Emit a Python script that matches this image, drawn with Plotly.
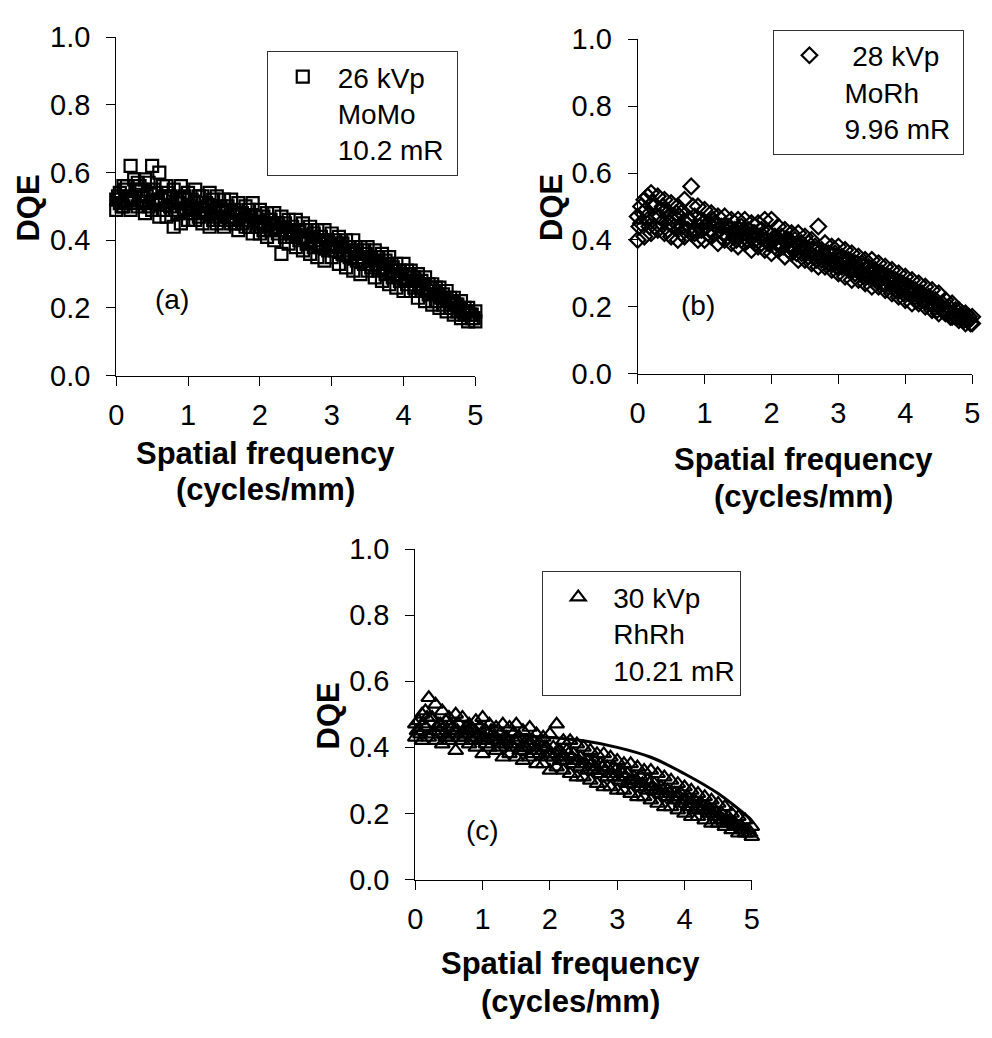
import plotly.graph_objects as go

# ---------------- data ----------------
x_grid1 = [0.0, 0.1, 0.2, 0.3, 0.4, 0.5, 0.6, 0.7, 0.8, 0.9,
           1.0, 1.1, 1.2, 1.3, 1.4, 1.5, 1.6, 1.7, 1.8, 1.9,
           2.0, 2.1, 2.2, 2.3, 2.4, 2.5, 2.6, 2.7, 2.8, 2.9,
           3.0, 3.1, 3.2, 3.3, 3.4, 3.5, 3.6, 3.7, 3.8, 3.9,
           4.0, 4.1, 4.2, 4.3, 4.4, 4.5, 4.6, 4.7, 4.8, 4.9, 5.0]
x_grid2 = [0.05, 0.15, 0.25, 0.35, 0.45, 0.55, 0.65, 0.75, 0.85, 0.95,
           1.05, 1.15, 1.25, 1.35, 1.45, 1.55, 1.65, 1.75, 1.85, 1.95,
           2.05, 2.15, 2.25, 2.35, 2.45, 2.55, 2.65, 2.75, 2.85, 2.95,
           3.05, 3.15, 3.25, 3.35, 3.45, 3.55, 3.65, 3.75, 3.85, 3.95,
           4.05, 4.15, 4.25, 4.35, 4.45, 4.55, 4.65, 4.75, 4.85, 4.95]
x_grid3 = [0.025, 0.125, 0.225, 0.325, 0.425, 0.525, 0.625, 0.725, 0.825, 0.925,
           1.025, 1.125, 1.225, 1.325, 1.425, 1.525, 1.625, 1.725, 1.825, 1.925,
           2.025, 2.125, 2.225, 2.325, 2.425, 2.525, 2.625, 2.725, 2.825, 2.925,
           3.025, 3.125, 3.225, 3.325, 3.425, 3.525, 3.625, 3.725, 3.825, 3.925,
           4.025, 4.125, 4.225, 4.325, 4.425, 4.525, 4.625, 4.725, 4.825, 4.925]
x_grid4 = [0.075, 0.175, 0.275, 0.375, 0.475, 0.575, 0.675, 0.775, 0.875, 0.975,
           1.075, 1.175, 1.275, 1.375, 1.475, 1.575, 1.675, 1.775, 1.875, 1.975,
           2.075, 2.175, 2.275, 2.375, 2.475, 2.575, 2.675, 2.775, 2.875, 2.975,
           3.075, 3.175, 3.275, 3.375, 3.475, 3.575, 3.675, 3.775, 3.875, 3.975,
           4.075, 4.175, 4.275, 4.375, 4.475, 4.575, 4.675, 4.775, 4.875, 4.975]
x_fit = [0, 0.5, 1, 1.5, 2, 2.5, 3, 3.5, 4, 4.5, 5]

# (a) 26 kVp MoMo
a_upper = [.52, .56, .62, .57, .58, .62, .60, .56, .55, .56,
           .54, .55, .53, .54, .53, .52, .52, .51, .50, .51,
           .49, .48, .48, .47, .46, .46, .45, .44, .43, .43,
           .42, .41, .40, .40, .38, .38, .37, .36, .35, .33,
           .33, .31, .30, .29, .27, .26, .25, .23, .22, .20, .19]
a_lower = [.49, .50, .49, .50, .48, .49, .47, .47, .44, .45,
           .46, .46, .45, .44, .45, .44, .45, .43, .44, .42,
           .42, .41, .40, .36, .39, .38, .37, .36, .35, .34,
           .35, .33, .32, .31, .30, .31, .29, .28, .27, .26,
           .25, .25, .23, .22, .21, .20, .19, .18, .17, .16, .16]
a_mid_hi = [.54, .56, .58, .55, .57, .54, .56, .53, .52, .53,
            .52, .53, .51, .52, .50, .50, .49, .48, .49, .47,
            .47, .46, .45, .45, .44, .43, .43, .42, .41, .40,
            .40, .39, .38, .37, .37, .35, .35, .34, .32, .31,
            .31, .29, .28, .27, .26, .24, .23, .21, .20, .18]
a_mid_lo = [.51, .52, .51, .53, .50, .51, .49, .50, .48, .49,
            .48, .47, .48, .46, .46, .47, .45, .45, .44, .44,
            .43, .43, .42, .41, .41, .40, .39, .38, .38, .37,
            .37, .36, .35, .34, .33, .32, .31, .30, .29, .28,
            .27, .26, .25, .24, .22, .21, .20, .19, .18, .17]
a_extra1 = [.53, .55, .52, .56, .53, .55, .52, .54, .51, .52,
            .50, .51, .49, .50, .48, .49, .47, .48, .46, .47,
            .45, .46, .44, .44, .42, .43, .41, .41, .39, .40,
            .38, .38, .36, .36, .34, .35, .33, .32, .31, .30,
            .29, .28, .27, .25, .25, .23, .22, .21, .19, .18]
a_extra2 = [.50, .53, .55, .51, .54, .52, .53, .49, .51, .48,
            .49, .48, .50, .47, .49, .46, .48, .46, .47, .45,
            .44, .45, .43, .43, .42, .41, .40, .40, .39, .38,
            .39, .37, .36, .35, .36, .34, .33, .33, .31, .30,
            .30, .28, .27, .26, .24, .23, .22, .20, .19, .17]
a_fit = [.50, .50, .49, .48, .46, .43, .40, .36, .30, .24, .17]

# (b) 28 kVp MoRh
b_upper = [.47, .52, .54, .53, .52, .51, .50, .52, .56, .50,
           .49, .48, .47, .47, .46, .46, .46, .45, .45, .46,
           .46, .44, .43, .42, .42, .41, .40, .44, .39, .38,
           .38, .37, .36, .35, .34, .34, .33, .32, .31, .30,
           .29, .28, .27, .26, .25, .24, .22, .21, .19, .18, .17]
b_lower = [.40, .41, .42, .43, .42, .41, .40, .41, .42, .40,
           .40, .41, .39, .40, .39, .38, .39, .37, .38, .37,
           .36, .37, .35, .36, .34, .34, .33, .32, .32, .31,
           .30, .29, .28, .28, .27, .26, .26, .25, .24, .23,
           .22, .21, .21, .20, .19, .18, .18, .17, .16, .15, .15]
b_mid_hi = [.50, .53, .50, .49, .48, .47, .48, .46, .47, .46,
            .45, .45, .44, .44, .43, .44, .43, .42, .43, .42,
            .41, .41, .40, .40, .39, .39, .38, .37, .36, .36,
            .35, .34, .33, .33, .32, .31, .30, .29, .28, .27,
            .26, .25, .24, .23, .22, .21, .20, .19, .18, .17]
b_mid_lo = [.45, .46, .44, .45, .43, .44, .42, .43, .42, .43,
            .42, .42, .41, .41, .41, .40, .40, .40, .39, .39,
            .38, .38, .37, .37, .36, .35, .35, .34, .33, .33,
            .32, .31, .30, .30, .29, .28, .27, .26, .25, .25,
            .24, .23, .22, .21, .20, .19, .18, .17, .17, .16]
b_extra1 = [.44, .49, .51, .47, .49, .46, .47, .45, .50, .44,
            .44, .46, .43, .44, .42, .43, .42, .42, .41, .40,
            .40, .39, .40, .38, .38, .37, .37, .35, .35, .34,
            .34, .33, .32, .31, .31, .30, .29, .28, .27, .26,
            .25, .24, .24, .22, .21, .20, .19, .18, .17, .16]
b_extra2 = [.48, .44, .47, .50, .45, .48, .44, .46, .43, .45,
            .43, .44, .42, .43, .40, .42, .41, .39, .41, .39,
            .39, .38, .38, .36, .37, .36, .34, .35, .33, .32,
            .33, .31, .31, .29, .30, .28, .27, .27, .25, .24,
            .24, .22, .22, .21, .19, .19, .17, .17, .16, .15]
b_fit = [.45, .45, .44, .43, .415, .395, .37, .33, .285, .225, .16]

# (c) 30 kVp RhRh
c_upper = [.47, .50, .55, .53, .51, .49, .50, .49, .47, .48,
           .49, .47, .46, .47, .46, .47, .45, .46, .44, .43,
           .44, .47, .42, .42, .41, .40, .39, .38, .38, .37,
           .36, .35, .35, .34, .33, .33, .32, .31, .30, .29,
           .28, .27, .26, .25, .24, .23, .22, .20, .19, .18, .16]
c_lower = [.43, .42, .43, .42, .41, .42, .39, .42, .41, .40,
           .38, .40, .39, .37, .38, .37, .36, .37, .35, .35,
           .33, .34, .33, .32, .31, .31, .30, .29, .28, .28,
           .27, .27, .26, .25, .25, .24, .23, .22, .22, .21,
           .20, .19, .19, .18, .17, .17, .16, .15, .14, .14, .13]
c_mid_hi = [.48, .51, .49, .47, .48, .46, .47, .46, .45, .46,
            .45, .44, .44, .43, .44, .43, .42, .42, .41, .40,
            .40, .39, .39, .38, .37, .36, .36, .35, .34, .34,
            .33, .32, .31, .31, .30, .29, .28, .27, .26, .26,
            .25, .24, .23, .22, .21, .20, .19, .17, .16, .15]
c_mid_lo = [.45, .46, .44, .45, .43, .44, .43, .44, .42, .42,
            .41, .42, .40, .41, .40, .39, .40, .38, .38, .37,
            .37, .36, .36, .35, .34, .33, .33, .32, .31, .31,
            .30, .29, .29, .28, .27, .27, .26, .25, .24, .23,
            .22, .21, .21, .20, .19, .18, .17, .16, .15, .14]
c_extra1 = [.45, .47, .49, .46, .44, .47, .45, .43, .46, .44,
            .43, .45, .42, .43, .41, .42, .40, .41, .39, .40,
            .38, .39, .37, .37, .36, .35, .35, .33, .33, .32,
            .31, .31, .30, .29, .28, .28, .27, .26, .25, .25,
            .24, .23, .22, .21, .20, .19, .18, .17, .16, .15]
c_extra2 = [.44, .49, .45, .47, .43, .45, .44, .45, .43, .44,
            .42, .43, .41, .42, .42, .40, .41, .39, .40, .38,
            .38, .37, .38, .36, .35, .36, .34, .34, .32, .33,
            .32, .30, .30, .29, .29, .27, .27, .26, .25, .24,
            .23, .22, .22, .21, .20, .18, .18, .16, .15, .14]
c_fit = [.45, .45, .44, .435, .43, .42, .40, .37, .32, .26, .18]

legend_texts = ["26 kVp<br>MoMo<br>10.2 mR\u00a0",
                "\u00a028 kVp<br>MoRh<br>9.96 mR\u00a0",
                "30 kVp<br>RhRh<br>10.21 mR"]
x_ticks = [0, 1, 2, 3, 4, 5]
y_ticks = [0.0, 0.2, 0.4, 0.6, 0.8, 1.0]
y_ticktext = ["0.0", "0.2", "0.4", "0.6", "0.8", "1.0"]

# ---------------- figure ----------------
W, H = 992, 1038
FONT = "Liberation Sans, Arial, sans-serif"

def px_x(p):
    return p / W

def px_y(p):
    return 1 - p / H

fig = go.Figure()

panels = [
    dict(xa="x", ya="y", leg="legend", sym="square-open", size=12,
         series=[(x_grid1, a_upper), (x_grid1, a_lower), (x_grid2, a_mid_hi), (x_grid2, a_mid_lo),
                 (x_grid3, a_extra1), (x_grid4, a_extra2)],
         fit=a_fit, text=legend_texts[0]),
    dict(xa="x2", ya="y2", leg="legend2", sym="diamond-open", size=12,
         series=[(x_grid1, b_upper), (x_grid1, b_lower), (x_grid2, b_mid_hi), (x_grid2, b_mid_lo),
                 (x_grid3, b_extra1), (x_grid4, b_extra2)],
         fit=b_fit, text=legend_texts[1]),
    dict(xa="x3", ya="y3", leg="legend3", sym="triangle-up-open", size=13,
         series=[(x_grid1, c_upper), (x_grid1, c_lower), (x_grid2, c_mid_hi), (x_grid2, c_mid_lo),
                 (x_grid3, c_extra1), (x_grid4, c_extra2)],
         fit=c_fit, text=legend_texts[2]),
]

for p in panels:
    fig.add_trace(go.Scatter(x=x_fit, y=p["fit"], mode="lines", xaxis=p["xa"], yaxis=p["ya"],
                             line=dict(color="black", width=3, shape="spline"),
                             showlegend=False, hoverinfo="skip"))
    for i, (xs, ys) in enumerate(p["series"]):
        fig.add_trace(go.Scatter(
            x=xs, y=ys, mode="markers", xaxis=p["xa"], yaxis=p["ya"],
            marker=dict(symbol=p["sym"], size=p["size"], color="black",
                        line=dict(width=2.2, color="black")),
            cliponaxis=False,
            name=p["text"], legend=p["leg"], showlegend=(i == 0)))

axis_common = dict(ticks="outside", ticklen=9, tickwidth=1, tickcolor="black",
                   showline=True, linecolor="black", linewidth=1,
                   showgrid=False, zeroline=False,
                   tickfont=dict(family=FONT, size=29, color="black"))

domains = [
    ((110, 475), (22, 371)),
    ((640, 980), (24, 369)),
    ((414, 756), (550, 891)),
]
for k, ((x0, x1), (yt, yb)) in enumerate(domains):
    sfx = "" if k == 0 else str(k + 1)
    fig.update_layout(**{
        "xaxis" + sfx: dict(axis_common, domain=[px_x(x0), px_x(x1)], range=[0, 5],
                            tickvals=x_ticks, anchor="y" + sfx, ticklabelstandoff=5),
        "yaxis" + sfx: dict(axis_common, domain=[px_y(yb), px_y(yt)], range=[0, 1],
                            tickvals=y_ticks, ticktext=y_ticktext, anchor="x" + sfx,
                            ticklabelstandoff=10),
    })

legend_common = dict(xanchor="left", yanchor="top", bordercolor="#333", borderwidth=1,
                     bgcolor="white", font=dict(family=FONT, size=28, color="black"),
                     valign="top", itemwidth=60)
fig.update_layout(
    legend=dict(legend_common, x=px_x(263), y=px_y(36)),
    legend2=dict(legend_common, x=px_x(778), y=px_y(14)),
    legend3=dict(legend_common, x=px_x(543), y=px_y(573)),
)

annotations = []
def ann(text, x, y, size=28, bold=False, angle=0):
    annotations.append(dict(
        text=("<b>%s</b>" % text) if bold else text, x=px_x(x), y=px_y(y),
        xref="paper", yref="paper", showarrow=False, textangle=angle,
        xanchor="center", yanchor="middle",
        font=dict(family=FONT, size=size, color="black")))

# y titles
ann("DQE", 21, 198, 31, True, -90)
ann("DQE", 553, 198, 31, True, -90)
ann("DQE", 326, 722, 31, True, -90)
# x titles
ann("Spatial frequency", 262, 451, 31, True)
ann("(cycles/mm)", 262, 489, 31, True)
ann("Spatial frequency", 809, 458, 31, True)
ann("(cycles/mm)", 809, 496, 31, True)
ann("Spatial frequency", 572, 978, 31, True)
ann("(cycles/mm)", 572, 1017, 31, True)
# panel labels
ann("(a)", 167, 293)
ann("(b)", 701, 299)
ann("(c)", 482, 840)

fig.update_layout(width=W, height=H, margin=dict(l=0, r=0, t=0, b=0),
                  paper_bgcolor="white", plot_bgcolor="white",
                  font=dict(family=FONT, color="black"),
                  annotations=annotations)

fig.write_html("out.html")
